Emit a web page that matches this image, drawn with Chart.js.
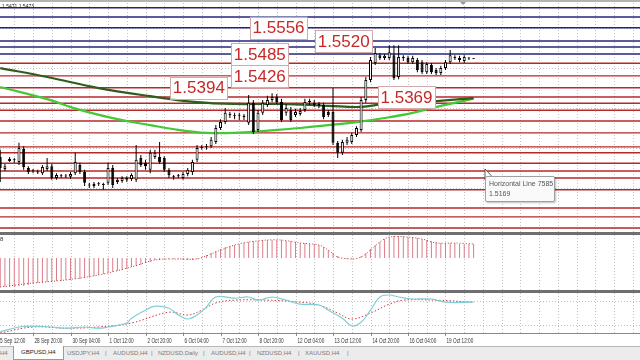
<!DOCTYPE html>
<html>
<head>
<meta charset="utf-8">
<title>GBPUSD,H4</title>
<script src="https://cdn.jsdelivr.net/npm/chart.js@4.4.1/dist/chart.umd.min.js"></script>
<style>
  html, body { margin: 0; padding: 0; background: #fff; }
  #wrap { position: relative; width: 640px; height: 360px; overflow: hidden; font-family: Arial, "Liberation Sans", sans-serif; }
  #wrap canvas { position: absolute; left: 0; }
  .sep { position: absolute; left: 0; width: 640px; height: 3px; background: #6f6f6f; }
  #topline { position: absolute; left: 0; top: 0; width: 640px; height: 2px; background: #b4b4b4; }
  #tip { position: absolute; left: 485px; top: 176px; width: 62px; height: 20px; padding: 2px 3px;
         background: #fafafa; border: 1px solid #a0a0a0; border-radius: 2px; box-shadow: 1px 1px 2px rgba(0,0,0,.25);
         font-size: 7px; line-height: 10px; color: #555; white-space: nowrap; }
  #tabs { position: absolute; left: 0; top: 346px; width: 640px; height: 14px; background: #ececec; border-top: 1px solid #b8b8b8; }
  #tabs span { position: absolute; top: 3px; font-size: 6px; color: #7a7a7a; white-space: nowrap; }
  #tabs .active { top: -1px; height: 13px; padding: 0 7px; line-height: 13px; background: #fff; border: 1px solid #9a9a9a; border-top: none; color: #222; }
  #osmaTag { position: absolute; left: 0; top: 236px; font-size: 6px; color: #333; }
</style>
</head>
<body>
<div id="wrap">
  <canvas id="main" width="640" height="232" style="top:0"></canvas>
  <div id="topline"></div>
  <div class="sep" style="top:232px"></div>
  <canvas id="osma" width="640" height="55" style="top:235px"></canvas>
  <div id="osmaTag">8</div>
  <div class="sep" style="top:290px"></div>
  <canvas id="stoch" width="640" height="53" style="top:293px"></canvas>
  <div id="tip">Horizontal Line 7585<br>1.5169</div>
  <div id="tabs">
    <span style="left:0">H4</span>
    <span class="active" style="left:13px">GBPUSD,H4</span>
    <span style="left:67px">USDJPY,H4</span>
    <span style="left:105px">|</span>
    <span style="left:113px">AUDUSD,H4</span>
    <span style="left:151px">|</span>
    <span style="left:158px">NZDUSD,Daily</span>
    <span style="left:203px">|</span>
    <span style="left:211px">AUDUSD,H4</span>
    <span style="left:249px">|</span>
    <span style="left:257px">NZDUSD,H4</span>
    <span style="left:298px">|</span>
    <span style="left:305px">XAUUSD,H4</span>
    <span style="left:347px">|</span>
  </div>
</div>
<script>
// ---- GBPUSD H4 candles (one entry per bar, oldest first) ----
const openP = [
  1.5207, 1.5174, 1.5196, 1.5199, 1.5193, 1.5228, 1.5177, 1.5169, 1.5166, 1.5163,
  1.5174, 1.5182, 1.5150, 1.5155, 1.5156, 1.5153, 1.5163, 1.5185, 1.5166, 1.5131,
  1.5128, 1.5134, 1.5131, 1.5137, 1.5177, 1.5139, 1.5142, 1.5145, 1.5147, 1.5145,
  1.5204, 1.5191, 1.5172, 1.5207, 1.5207, 1.5204, 1.5172, 1.5153, 1.5155, 1.5150,
  1.5161, 1.5166, 1.5199, 1.5231, 1.5234, 1.5236, 1.5247, 1.5285, 1.5301, 1.5320,
  1.5318, 1.5318, 1.5315, 1.5299, 1.5353, 1.5280, 1.5326, 1.5347, 1.5361, 1.5369,
  1.5355, 1.5326, 1.5334, 1.5320, 1.5323, 1.5334, 1.5355, 1.5353, 1.5350, 1.5347,
  1.5328, 1.5328, 1.5245, 1.5218, 1.5245, 1.5247, 1.5266, 1.5280, 1.5361, 1.5415,
  1.5461, 1.5482, 1.5474, 1.5474, 1.5482, 1.5423, 1.5474, 1.5474, 1.5463, 1.5469,
  1.5463, 1.5436, 1.5455, 1.5442, 1.5434, 1.5447, 1.5463, 1.5477, 1.5474, 1.5466,
  1.5474, 1.5472
];
const highP = [
  1.5226, 1.5188, 1.5207, 1.5204, 1.5245, 1.5236, 1.5182, 1.5174, 1.5172, 1.5185,
  1.5204, 1.5188, 1.5163, 1.5161, 1.5161, 1.5166, 1.5218, 1.5191, 1.5172, 1.5137,
  1.5139, 1.5139, 1.5137, 1.5191, 1.5185, 1.5150, 1.5155, 1.5155, 1.5163, 1.5239,
  1.5212, 1.5199, 1.5226, 1.5226, 1.5247, 1.5209, 1.5177, 1.5158, 1.5161, 1.5166,
  1.5177, 1.5199, 1.5239, 1.5239, 1.5242, 1.5261, 1.5293, 1.5309, 1.5339, 1.5328,
  1.5326, 1.5326, 1.5323, 1.5374, 1.5361, 1.5334, 1.5361, 1.5372, 1.5379, 1.5377,
  1.5364, 1.5350, 1.5342, 1.5337, 1.5339, 1.5364, 1.5364, 1.5361, 1.5355, 1.5353,
  1.5334, 1.5393, 1.5250, 1.5253, 1.5261, 1.5272, 1.5290, 1.5369, 1.5423, 1.5477,
  1.5501, 1.5488, 1.5485, 1.5509, 1.5509, 1.5509, 1.5482, 1.5480, 1.5480, 1.5474,
  1.5469, 1.5463, 1.5461, 1.5447, 1.5453, 1.5469, 1.5496, 1.5482, 1.5480, 1.5482,
  1.5477, 1.5474
];
const lowP = [
  1.5139, 1.5169, 1.5193, 1.5191, 1.5185, 1.5172, 1.5161, 1.5163, 1.5161, 1.5158,
  1.5169, 1.5145, 1.5145, 1.5150, 1.5150, 1.5147, 1.5158, 1.5161, 1.5128, 1.5123,
  1.5123, 1.5128, 1.5118, 1.5131, 1.5123, 1.5134, 1.5137, 1.5139, 1.5142, 1.5139,
  1.5180, 1.5172, 1.5163, 1.5201, 1.5188, 1.5166, 1.5150, 1.5145, 1.5150, 1.5145,
  1.5155, 1.5158, 1.5193, 1.5226, 1.5226, 1.5231, 1.5242, 1.5280, 1.5296, 1.5312,
  1.5309, 1.5307, 1.5307, 1.5293, 1.5269, 1.5274, 1.5320, 1.5342, 1.5355, 1.5350,
  1.5301, 1.5318, 1.5301, 1.5315, 1.5318, 1.5328, 1.5347, 1.5342, 1.5339, 1.5309,
  1.5315, 1.5239, 1.5204, 1.5212, 1.5239, 1.5242, 1.5261, 1.5274, 1.5353, 1.5409,
  1.5455, 1.5469, 1.5469, 1.5469, 1.5415, 1.5417, 1.5466, 1.5458, 1.5458, 1.5436,
  1.5431, 1.5431, 1.5431, 1.5428, 1.5428, 1.5442, 1.5458, 1.5469, 1.5463, 1.5461,
  1.5469, 1.5472
];
const closeP = [
  1.5177, 1.5182, 1.5201, 1.5198, 1.5231, 1.5180, 1.5166, 1.5168, 1.5165, 1.5180,
  1.5182, 1.5150, 1.5158, 1.5156, 1.5154, 1.5161, 1.5193, 1.5166, 1.5137, 1.5130,
  1.5134, 1.5133, 1.5132, 1.5177, 1.5131, 1.5145, 1.5150, 1.5150, 1.5158, 1.5199,
  1.5185, 1.5182, 1.5218, 1.5218, 1.5193, 1.5172, 1.5158, 1.5152, 1.5156, 1.5161,
  1.5172, 1.5193, 1.5231, 1.5234, 1.5233, 1.5253, 1.5285, 1.5301, 1.5326, 1.5321,
  1.5317, 1.5320, 1.5318, 1.5353, 1.5274, 1.5326, 1.5353, 1.5361, 1.5369, 1.5355,
  1.5307, 1.5339, 1.5307, 1.5328, 1.5331, 1.5355, 1.5356, 1.5347, 1.5345, 1.5315,
  1.5320, 1.5245, 1.5218, 1.5247, 1.5253, 1.5266, 1.5285, 1.5361, 1.5415, 1.5469,
  1.5488, 1.5474, 1.5480, 1.5490, 1.5420, 1.5477, 1.5475, 1.5463, 1.5474, 1.5442,
  1.5436, 1.5458, 1.5436, 1.5434, 1.5447, 1.5463, 1.5482, 1.5474, 1.5469, 1.5477,
  1.5473, 1.5471
];

// moving averages, read at a few bars
const slowMaBars = [0, 10, 21, 32, 42, 50, 60, 70, 77, 82, 90, 101];
const slowMa = [1.5447, 1.5423, 1.5393, 1.5371, 1.5355, 1.5350, 1.5350, 1.5345, 1.5342, 1.5350, 1.5355, 1.5366];
const fastMaBars = [0, 10, 17, 25, 32, 38, 44, 50, 56, 64, 70, 76, 82, 88, 94, 101];
const fastMa = [1.5396, 1.5363, 1.5334, 1.5309, 1.5293, 1.5280, 1.5272, 1.5272, 1.5277, 1.5285, 1.5293, 1.5301, 1.5312, 1.5326, 1.5345, 1.5364];

// horizontal lines: blue above price, red below
const resistanceLines = [1.5610, 1.5585, 1.5556, 1.5520, 1.5504, 1.5485];
const supportLines = [1.5460, 1.5426, 1.5394, 1.5369, 1.5352, 1.5333, 1.5304, 1.5272, 1.5234, 1.5218,
                      1.5190, 1.5169, 1.5150, 1.5118, 1.5069, 1.5045, 1.5015];

// price text labels and the bar where each box starts
const priceLabels = ['1.5556', '1.5520', '1.5485', '1.5426', '1.5394', '1.5369'];
const labelBars = [53.3, 67.2, 49.3, 49.3, 36.3, 80.6];
const priceGrid = [1.5555, 1.5447, 1.5339, 1.5231, 1.5123, 1.5015];

// OsMA histogram (points), one per bar, plus its dotted signal
const osma = [
  -29, -29, -29, -29, -28, -28, -27, -26, -25, -25,
  -24, -24, -23, -23, -22, -22, -21, -21, -20, -19,
  -18, -17, -16, -15, -14, -13, -12, -11, -9, -8,
  -7, -5, -4, -2, -2, -1, -1, -1, -1, -2,
  -2, -2, -1, 1, 3, 5, 7, 9, 11, 12,
  13, 14, 15, 16, 17, 17, 18, 18, 18, 18,
  18, 17, 17, 16, 15, 15, 14, 14, 13, 11,
  8, 5, 2, 0, -1, -1, 0, 2, 5, 9,
  13, 16, 19, 21, 22, 22, 22, 21, 21, 20,
  19, 18, 17, 16, 15, 15, 15, 15, 14, 14,
  14, 14
];
const osmaSigBars = [0, 7, 14, 21, 28, 33, 38, 42, 46, 50, 53, 57, 60, 64, 68, 70, 72, 75, 77, 79, 81, 83, 87, 90, 93, 97, 101];
const osmaSig = [-29, -25, -22, -17, -9, -2, -1, -1, 6, 13, 16, 18, 18, 15, 13, 8, 1, -1, 1, 8, 16, 21, 21, 19, 15, 15, 14];

// stochastic main (cyan) and signal (red dotted)
const stochBars = [0, 4, 7, 11, 14, 18, 21, 23, 27, 28, 31, 33, 36, 38, 40, 42, 44, 46, 50, 53,
                   55, 58, 61, 64, 68, 70, 73, 75, 77, 79, 81, 83, 85, 88, 92, 95, 101];
const stochMain = [3, 15, 17, 15, 12, 15, 12, 15, 25, 37, 57, 67, 62, 45, 35, 45, 65, 90, 87, 90,
                   82, 90, 82, 72, 70, 57, 37, 18, 27, 57, 90, 95, 90, 85, 85, 77, 77];
const stochSigBars = [0, 7, 14, 21, 28, 36, 40, 43, 46, 50, 57, 64, 68, 72, 75, 79, 83, 86, 93, 101];
const stochSig = [0, 15, 12, 15, 25, 52, 45, 57, 75, 82, 82, 77, 70, 50, 35, 50, 72, 82, 82, 77];
const stochLevels = [20, 80];

// time axis
const timeLabels = ['25 Sep 12:00', '28 Sep 20:00', '30 Sep 04:00', '1 Oct 12:00', '2 Oct 20:00', '6 Oct 04:00',
                    '7 Oct 12:00', '8 Oct 20:00', '12 Oct 04:00', '13 Oct 12:00', '14 Oct 20:00', '16 Oct 04:00', '19 Oct 12:00'];
const timeLabelBars = [-1, 7, 15, 23, 31, 39, 47, 55, 63, 71, 79, 87, 95];

/* ------------------------------------------------------------- */
const X_MIN = -0.05, X_MAX = 136.5;
const pts = (bars, vals) => bars.map((b, i) => ({ x: b, y: vals[i] }));
const xScale = { type: 'linear', min: X_MIN, max: X_MAX, display: false, offset: false };

// dotted MT4 style grid: vertical every 4 bars, horizontal at given levels
const mtGrid = {
  id: 'mtGrid',
  beforeDatasetsDraw(chart, args, o) {
    const { ctx, chartArea: a, scales: { x, y } } = chart;
    ctx.save();
    ctx.strokeStyle = '#c2c2c2';
    ctx.lineWidth = 1;
    ctx.setLineDash([1, 2]);
    ctx.beginPath();
    for (let b = o.first; b <= X_MAX; b += o.step) {
      const px = Math.round(x.getPixelForValue(b)) + 0.5;
      ctx.moveTo(px, a.top); ctx.lineTo(px, a.bottom);
    }
    (o.levels || []).forEach(v => {
      const py = Math.round(y.getPixelForValue(v)) + 0.5;
      ctx.moveTo(a.left, py); ctx.lineTo(a.right, py);
    });
    ctx.stroke();
    ctx.restore();
  }
};

// red price boxes, header quote, cursor
const mainDecor = {
  id: 'mainDecor',
  afterDatasetsDraw(chart) {
    const { ctx, scales: { x, y } } = chart;
    ctx.save();
    ctx.font = '17px Arial, "Liberation Sans", sans-serif';
    ctx.textBaseline = 'middle';
    priceLabels.forEach((t, i) => {
      const left = x.getPixelForValue(labelBars[i]);
      const cy = y.getPixelForValue(parseFloat(t));
      const w = ctx.measureText(t).width + 5;
      ctx.fillStyle = '#ffffff';
      ctx.fillRect(left, cy - 11, w, 22);
      ctx.strokeStyle = '#d3aaaa';
      ctx.lineWidth = 1;
      ctx.strokeRect(Math.round(left) + 0.5, Math.round(cy - 11) + 0.5, Math.round(w), 22);
      ctx.fillStyle = '#c62828';
      ctx.fillText(t, left + 2.5, cy + 1);
    });
    ctx.font = '5px Arial, sans-serif';
    ctx.fillStyle = '#222';
    ctx.textBaseline = 'alphabetic';
    ctx.fillText('1.5471 1.5473', 2, 8);
    // chart shift marker
    ctx.fillStyle = '#9a9a9a';
    ctx.beginPath(); ctx.moveTo(460, 2); ctx.lineTo(466, 2); ctx.lineTo(463, 5); ctx.closePath(); ctx.fill();
    // mouse pointer
    ctx.beginPath();
    ctx.moveTo(485, 169); ctx.lineTo(485, 180); ctx.lineTo(487.5, 177.5); ctx.lineTo(489.5, 182);
    ctx.lineTo(491, 181.3); ctx.lineTo(489, 177); ctx.lineTo(492.5, 177); ctx.closePath();
    ctx.fillStyle = '#fff'; ctx.fill();
    ctx.strokeStyle = '#333'; ctx.lineWidth = 0.8; ctx.stroke();
    ctx.restore();
  }
};

// bottom time scale of the last sub-window
const timeAxis = {
  id: 'timeAxis',
  afterDraw(chart) {
    const { ctx, chartArea: a, scales: { x } } = chart;
    ctx.save();
    ctx.strokeStyle = '#8a8a8a';
    ctx.lineWidth = 1;
    ctx.beginPath();
    ctx.moveTo(0, a.bottom + 0.5); ctx.lineTo(640, a.bottom + 0.5);
    ctx.stroke();
    ctx.font = '6.5px Arial, "Liberation Sans", sans-serif';
    ctx.fillStyle = '#333';
    ctx.textBaseline = 'alphabetic';
    timeLabels.forEach((t, i) => {
      const px = Math.round(x.getPixelForValue(timeLabelBars[i])) + 0.5;
      ctx.beginPath(); ctx.moveTo(px, a.bottom); ctx.lineTo(px, a.bottom + 3); ctx.stroke();
      ctx.save();
      ctx.translate(px + 1, a.bottom + 9.5);
      ctx.scale(0.72, 1);
      ctx.fillText(t, 0, 0);
      ctx.restore();
    });
    ctx.restore();
  }
};

const common = {
  responsive: false,
  devicePixelRatio: 1,
  animation: false,
  events: [],
  layout: { padding: 0 },
  plugins: { legend: { display: false }, tooltip: { enabled: false } }
};

/* ---------------- main price window ---------------- */
const hLineSets = [
  ...resistanceLines.map(p => ({ p, c: '#24247e' })),
  ...supportLines.map(p => ({ p, c: '#b82828' }))
].map(({ p, c }) => ({
  type: 'line', order: 5, data: [{ x: -2, y: p }, { x: 140, y: p }],
  borderColor: c, borderWidth: 1.4, pointRadius: 0
}));

new Chart(document.getElementById('main'), {
  type: 'bar',
  data: {
    datasets: [
      {
        order: 0, grouped: false, barThickness: 3, minBarLength: 1, borderSkipped: false, inflateAmount: 0,
        data: openP.map((o, i) => ({ x: i, y: [o, closeP[i]] })),
        backgroundColor: openP.map((o, i) => closeP[i] >= o ? '#ffffff' : '#000000'),
        borderColor: '#000000', borderWidth: 1
      },
      {
        order: 1, grouped: false, barThickness: 1, borderSkipped: false, inflateAmount: 0,
        data: lowP.map((l, i) => ({ x: i, y: [l, highP[i]] })),
        backgroundColor: '#000000'
      },
      {
        type: 'line', order: 2, data: pts(slowMaBars, slowMa),
        borderColor: '#2f5d1e', borderWidth: 2.2, pointRadius: 0, tension: 0.4
      },
      {
        type: 'line', order: 3, data: pts(fastMaBars, fastMa),
        borderColor: '#43c936', borderWidth: 2.2, pointRadius: 0, tension: 0.4
      },
      ...hLineSets
    ]
  },
  options: {
    ...common,
    scales: { x: xScale, y: { display: false, min: 1.5004, max: 1.5631 } },
    plugins: { ...common.plugins, mtGrid: { first: 3, step: 4, levels: priceGrid } }
  },
  plugins: [mtGrid, mainDecor]
});

/* ---------------- OsMA window ---------------- */
new Chart(document.getElementById('osma'), {
  type: 'bar',
  data: {
    datasets: [
      {
        type: 'line', order: 0, data: pts(osmaSigBars, osmaSig),
        borderColor: '#b83a3a', borderWidth: 1, borderDash: [1, 2], pointRadius: 0, tension: 0.3
      },
      {
        order: 1, grouped: false, barThickness: 1, inflateAmount: 0,
        data: osma.map((v, i) => ({ x: i, y: v })),
        backgroundColor: '#dc7c88'
      }
    ]
  },
  options: {
    ...common,
    scales: { x: xScale, y: { display: false, min: -32, max: 23 } },
    plugins: { ...common.plugins, mtGrid: { first: 3, step: 4, levels: [] } }
  },
  plugins: [mtGrid]
});

/* ---------------- Stochastic window ---------------- */
new Chart(document.getElementById('stoch'), {
  type: 'line',
  data: {
    datasets: [
      {
        data: pts(stochBars, stochMain),
        borderColor: '#7fcfd6', borderWidth: 1.2, pointRadius: 0, tension: 0.4
      },
      {
        data: pts(stochSigBars, stochSig),
        borderColor: '#c04040', borderWidth: 1, borderDash: [1.5, 2], pointRadius: 0, tension: 0.4
      }
    ]
  },
  options: {
    ...common,
    layout: { padding: { top: 0, bottom: 13, left: 0, right: 0 } },
    scales: { x: xScale, y: { display: false, min: 0, max: 100 } },
    plugins: { ...common.plugins, mtGrid: { first: 3, step: 4, levels: stochLevels } }
  },
  plugins: [mtGrid, timeAxis]
});
</script>
</body>
</html>
